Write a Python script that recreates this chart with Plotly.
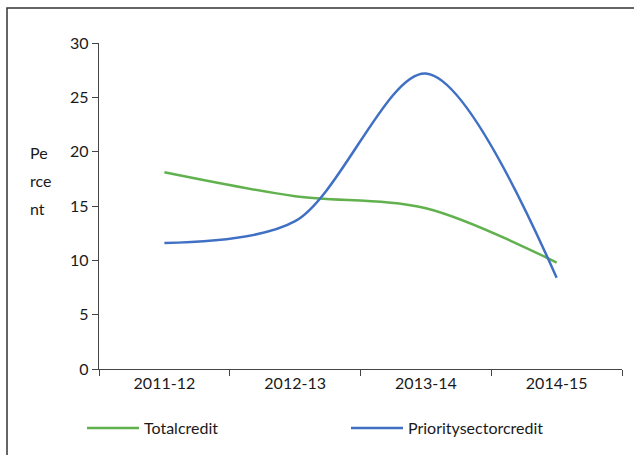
import plotly.graph_objects as go

years = ["2011-12", "2012-13", "2013-14", "2014-15"]
total_credit = [18.1, 15.9, 14.8, 9.8]
priority_credit = [11.6, 13.6, 27.2, 8.4]

W, H = 634, 455
L, R, T, B = 99, 12, 43, 86
pw, ph = W - L - R, H - T - B

def px_x(x):
    return (x - L) / pw

def px_y(y):
    return (H - B - y) / ph

font = dict(family="Lato, Open Sans, sans-serif", size=16, color="#1a1a1a")

fig = go.Figure()
fig.add_trace(go.Scatter(
    x=years, y=total_credit, name="Totalcredit", mode="lines",
    line=dict(color="#62b14f", width=2.5, shape="spline", smoothing=0.9),
))
fig.add_trace(go.Scatter(
    x=years, y=priority_credit, name="Prioritysectorcredit", mode="lines",
    line=dict(color="#4070c4", width=2.5, shape="spline", smoothing=0.9),
))

fig.update_layout(
    width=W, height=H,
    margin=dict(l=L, r=R, t=T, b=B, autoexpand=False),
    paper_bgcolor="white", plot_bgcolor="white",
    font=font,
    showlegend=True,
    legend=dict(
        orientation="h",
        x=px_x(82), xanchor="left", y=px_y(428), yanchor="middle",
        entrywidth=197, entrywidthmode="pixels", font=font,
        itemwidth=52, tracegroupgap=0,
    ),
    xaxis=dict(
        type="category", range=[-0.5, 3.5], tickson="boundaries",
        showline=True, linecolor="#444444", linewidth=1.3,
        ticks="outside", ticklen=6, tickcolor="#444444", tickwidth=1.3,
        showgrid=False, zeroline=False, tickfont=font, automargin=False,
    ),
    yaxis=dict(
        range=[0, 30], tickvals=[0, 5, 10, 15, 20, 25, 30],
        showline=True, linecolor="#444444", linewidth=1.3,
        ticks="outside", ticklen=6, tickcolor="#444444", tickwidth=1.3,
        showgrid=False, zeroline=False, tickfont=font, automargin=False,
    ),
    shapes=[dict(
        type="rect", xref="paper", yref="paper",
        x0=px_x(7), x1=px_x(645), y0=px_y(470), y1=px_y(8),
        line=dict(color="#333333", width=1.5), fillcolor="rgba(0,0,0,0)",
        layer="below",
    )],
    annotations=[
        dict(text=t, xref="paper", yref="paper",
             x=px_x(28), y=px_y(yy), xanchor="left", yanchor="middle",
             showarrow=False, align="left", font=font)
        for t, yy in [("Pe", 152), ("rce", 180), ("nt", 208)]
    ],
)

fig.write_html("out.html")
